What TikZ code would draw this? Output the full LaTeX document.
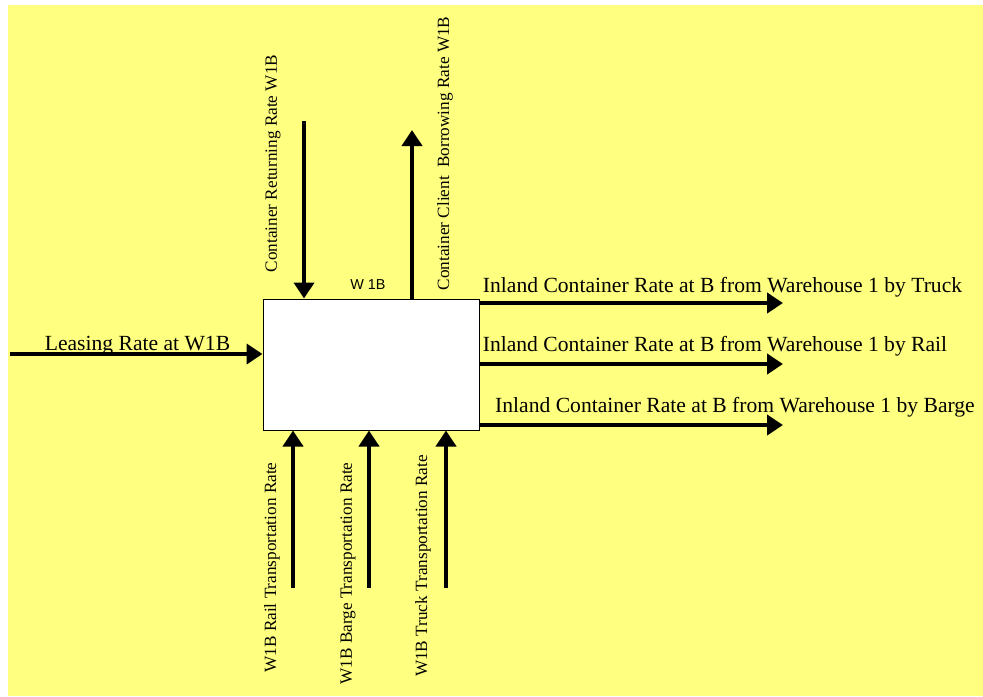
\documentclass[tikz,border=0pt]{standalone}
\usepackage{fontspec}
\setmainfont{Liberation Serif}
\newfontfamily\tagfont{Liberation Sans}
\usetikzlibrary{arrows.meta,positioning}
\definecolor{bgyellow}{HTML}{FFFF80}

\begin{document}
\begin{tikzpicture}[
  x=0.5pt, y=-0.5pt,
  block/.style={draw, line width=0.5pt, fill=white, minimum width=108pt, minimum height=65.5pt, inner sep=0pt},
  flow/.style={line width=2pt, -{Triangle[length=8pt,width=10pt]}},
  hlabel/.style={inner sep=0pt, font=\fontsize{10.8}{12}\selectfont},
  vlabel/.style={inner sep=0pt, rotate=90, font=\fontsize{8.6}{10}\selectfont}
]
\useasboundingbox (0,0) rectangle (983,696);
\fill[bgyellow] (8,5) rectangle (983,696);

% the block
\node[block] (w1b) at (371,364.5) {};
\node[font=\tagfont\fontsize{7.2}{8}\selectfont, inner sep=0pt] (w1btag) at (368,285) {W 1B};

% free ends
\coordinate (lease) at (10,354);
\coordinate (ret) at (304,121);
\coordinate (borrow) at (412,130);
\coordinate (truck) at (783,303);
\coordinate (rail) at (783,364);
\coordinate (barge) at (783,425);
\coordinate (railin) at (293,588);
\coordinate (bargein) at (369,588);
\coordinate (truckin) at (446,588);

\draw[flow] (lease) -- (lease -| w1b.west);
\draw[flow] (ret) -- (ret |- w1b.north);
\draw[flow] (borrow |- w1b.north) -- (borrow);
\draw[flow] (truck -| w1b.east) -- (truck);
\draw[flow] (rail -| w1b.east) -- (rail);
\draw[flow] (barge -| w1b.east) -- (barge);
\draw[flow] (railin) -- (railin |- w1b.south);
\draw[flow] (bargein) -- (bargein |- w1b.south);
\draw[flow] (truckin) -- (truckin |- w1b.south);

% labels
\node[hlabel] (leaselbl) at (137.5,346) {Leasing Rate at W1B};
\node[hlabel] (trucklbl) at (722.5,287) {Inland Container Rate at B from Warehouse 1 by Truck};
\node[hlabel] (raillbl) at (715,346) {Inland Container Rate at B from Warehouse 1 by Rail};
\node[hlabel] (bargelbl) at (735,407) {Inland Container Rate at B from Warehouse 1 by Barge};
\node[vlabel] (retlbl) at (273,163.5) {Container Returning Rate W1B};
\node[vlabel] (borrowlbl) at (445,153.5) {Container Client~~Borrowing Rate W1B};
\node[vlabel] (raillbl2) at (272,567.5) {W1B Rail Transportation Rate};
\node[vlabel] (bargelbl2) at (348,573.5) {W1B Barge Transportation Rate};
\node[vlabel] (trucklbl2) at (423,566) {W1B Truck Transportation Rate};

\end{tikzpicture}
\end{document}
